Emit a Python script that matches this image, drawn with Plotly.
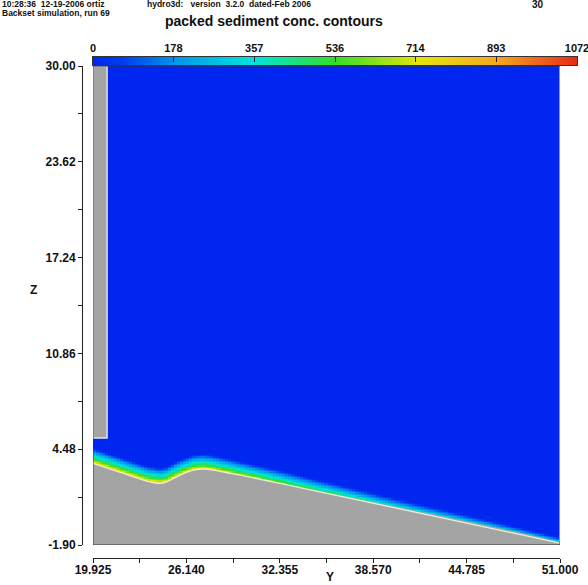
import numpy as np
import plotly.graph_objects as go

# ---- data -------------------------------------------------------------
# bed profile (horizontal position Y, elevation Z)
bed_y = [19.925, 21.28, 23.50, 24.38, 24.83, 25.71, 26.60, 27.26, 27.93, 32.37, 51.0]
bed_z = [3.54, 3.09, 2.36, 2.21, 2.31, 2.76, 3.09, 3.16, 3.09, 2.21, -1.77]

# gray wall at the upstream end
wall_y = [19.925, 20.86]
wall_z = [5.23, 30.0]

# packed-sediment layer along the bed: thickness and concentration at the bed
layer_y = [19.925, 27.24, 33.0, 40.0, 46.0, 51.0]
layer_thk = [1.0, 1.0, 0.85, 0.6, 0.5, 0.35]
layer_peak = [800, 780, 600, 430, 400, 380]

# concentration profile across the layer (fraction of height, fraction of peak)
prof_h = [0.0, 0.12, 0.3, 0.5, 0.75, 1.0]
prof_c = [1.0, 0.85, 0.62, 0.42, 0.22, 0.0]

# axis ticks
y_ticks = [19.925, 26.140, 32.355, 38.570, 44.785, 51.000]
y_ticktext = ["19.925", "26.140", "32.355", "38.570", "44.785", "51.000"]
z_ticks = [30.00, 23.62, 17.24, 10.86, 4.48, -1.90]
z_ticktext = ["30.00", "23.62", "17.24", "10.86", "4.48", "-1.90"]
cbar_ticks = [0, 178, 357, 536, 714, 893, 1072]

Y_MIN, Y_MAX = 19.925, 51.0
Z_MIN, Z_MAX = -1.9, 30.0
C_MAX = 1072

colorscale = [
    [0.00, "rgb(0,38,240)"],
    [0.06, "rgb(0,60,240)"],
    [0.17, "rgb(0,150,235)"],
    [0.33, "rgb(0,228,222)"],
    [0.50, "rgb(50,222,40)"],
    [0.67, "rgb(228,230,10)"],
    [0.83, "rgb(245,170,30)"],
    [1.00, "rgb(232,40,22)"],
]

# ---- concentration grid -----------------------------------------------
dy, dz = 0.2, 0.1
yc = np.arange(Y_MIN + dy / 2, Y_MAX, dy)
zc = np.arange(Z_MIN + dz / 2, Z_MAX, dz)
YY, ZZ = np.meshgrid(yc, zc)
bed_at = np.interp(YY, bed_y, bed_z)
thk_at = np.interp(YY, layer_y, layer_thk)
peak_at = np.interp(YY, layer_y, layer_peak)
rel = np.clip((ZZ - bed_at) / thk_at, 0, None)
conc = peak_at * np.interp(rel, prof_h, prof_c)

fig = go.Figure()

fig.add_trace(go.Heatmap(
    x=yc, y=zc, z=conc, zmin=0, zmax=C_MAX,
    colorscale=colorscale, showscale=False, hoverinfo="skip",
    xaxis="x", yaxis="y",
))

# solid bed below the profile
fig.add_trace(go.Scatter(
    x=bed_y + [Y_MAX, Y_MIN], y=bed_z + [Z_MIN, Z_MIN],
    fill="toself", fillcolor="#a4a4a4", mode="lines",
    line=dict(color="#a4a4a4", width=0, shape="spline", smoothing=0.6),
    hoverinfo="skip", showlegend=False,
))
# bright line on the bed surface
fig.add_trace(go.Scatter(
    x=bed_y, y=bed_z, mode="lines",
    line=dict(color="rgba(240,248,225,0.9)", width=1.3, shape="spline", smoothing=0.6),
    hoverinfo="skip", showlegend=False,
))
# wall
fig.add_trace(go.Scatter(
    x=[wall_y[0], wall_y[1], wall_y[1], wall_y[0], wall_y[0]],
    y=[wall_z[1], wall_z[1], wall_z[0], wall_z[0], wall_z[1]],
    fill="toself", fillcolor="#a4a4a4", mode="lines",
    line=dict(color="#e4e4e4", width=1.5), hoverinfo="skip", showlegend=False,
))

# horizontal colour bar
bar_vals = np.linspace(0, C_MAX, 300)
fig.add_trace(go.Heatmap(
    x=bar_vals, y=[0], z=[bar_vals], zmin=0, zmax=C_MAX,
    colorscale=colorscale, showscale=False, hoverinfo="skip",
    xaxis="x2", yaxis="y2",
))

W, H = 588, 585
tick_font = dict(family="Liberation Sans, Arial", size=12, color="#111", weight="bold")


def mids(v):
    s = sorted(v)
    return [(a + b) / 2 for a, b in zip(s[:-1], s[1:])]


fig.update_layout(
    width=W, height=H,
    margin=dict(l=0, r=0, t=0, b=0, autoexpand=False),
    paper_bgcolor="white", plot_bgcolor="white",
    showlegend=False,
    xaxis=dict(
        domain=[93 / W, 560 / W], range=[Y_MIN, Y_MAX], automargin=False,
        anchor="free", position=(H - 558) / H,
        showgrid=False, zeroline=False,
        showline=True, linecolor="#222", linewidth=1,
        tickmode="array", tickvals=y_ticks, ticktext=y_ticktext,
        ticks="outside", ticklen=4, tickcolor="#222", tickfont=tick_font,
        ticklabelstandoff=-3, ticklabeloverflow="allow",
        minor=dict(tickmode="array", tickvals=mids(y_ticks), ticks="outside",
                   ticklen=4, tickcolor="#222"),
    ),
    yaxis=dict(
        domain=[(H - 545) / H, (H - 66) / H], range=[Z_MIN, Z_MAX], automargin=False,
        anchor="free", position=82 / W,
        showgrid=False, zeroline=False,
        showline=True, linecolor="#222", linewidth=1,
        tickmode="array", tickvals=z_ticks, ticktext=z_ticktext,
        ticks="outside", ticklen=4, tickcolor="#222", tickfont=tick_font,
        minor=dict(tickmode="array", tickvals=mids(z_ticks), ticks="outside",
                   ticklen=4, tickcolor="#222"),
    ),
    xaxis2=dict(
        domain=[93 / W, 577 / W], range=[-0.01, C_MAX + 0.01], anchor="y2", side="top",
        automargin=False, showgrid=False, zeroline=False,
        showline=True, mirror=True, linecolor="#333", linewidth=1,
        tickmode="array", tickvals=cbar_ticks, ticks="inside", ticklen=5,
        ticklabeloverflow="allow",
        tickcolor="#222", tickfont=dict(family="Liberation Sans, Arial", size=11,
                                        color="#111", weight="bold"),
    ),
    yaxis2=dict(
        domain=[1 - 65 / H, 1 - 57 / H], range=[-0.5, 0.5], anchor="x2",
        automargin=False, showgrid=False, zeroline=False, showticklabels=False,
        showline=True, mirror=True, linecolor="#333", linewidth=1,
    ),
    shapes=[dict(
        type="rect", xref="x", yref="y", x0=Y_MIN, x1=Y_MAX, y0=Z_MIN, y1=Z_MAX,
        line=dict(color="#333", width=1), fillcolor="rgba(0,0,0,0)", layer="above",
    )],
)

hdr_font = dict(family="Liberation Sans, Arial", size=8.5, color="#111", weight="bold")
annotations = [
    dict(text="packed sediment conc. contours", x=274 / W, y=1 - 21 / H,
         font=dict(family="Liberation Sans, Arial", size=14, color="#111", weight="bold")),
    dict(text="Z", x=33 / W, y=1 - 290 / H,
         font=dict(family="Liberation Sans, Arial", size=12, color="#111", weight="bold")),
    dict(text="Y", x=330 / W, y=1 - 577 / H,
         font=dict(family="Liberation Sans, Arial", size=12, color="#111", weight="bold")),
    dict(text="10:28:36  12-19-2006 ortiz", x=0, y=1 - 4.5 / H, xanchor="left", font=hdr_font),
    dict(text="hydro3d:   version  3.2.0  dated-Feb 2006", x=145 / W, y=1 - 4.5 / H,
         xanchor="left", font=hdr_font),
    dict(text="Backset simulation, run 69", x=0, y=1 - 12.5 / H, xanchor="left", font=hdr_font),
    dict(text="30", x=538 / W, y=1 - 5 / H, font=dict(family="Liberation Sans, Arial",
                                                      size=10, color="#111", weight="bold")),
]
for a in annotations:
    a.setdefault("xanchor", "center")
    a.update(xref="paper", yref="paper", yanchor="middle", showarrow=False)
fig.update_layout(annotations=annotations)

fig.write_html("out.html")
